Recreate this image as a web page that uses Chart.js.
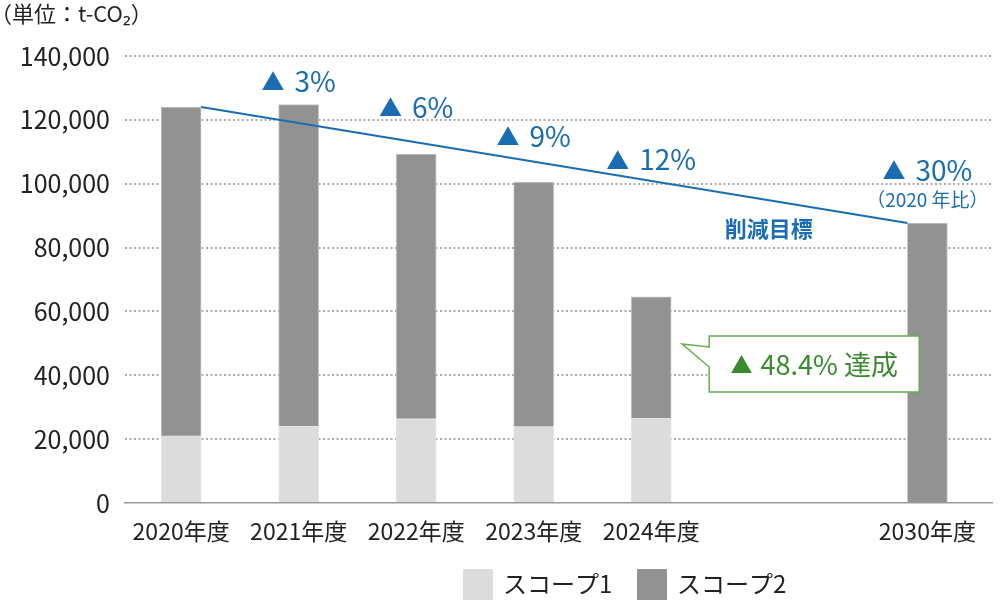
<!DOCTYPE html>
<html lang="ja">
<head>
<meta charset="utf-8">
<title>CO2排出量の推移</title>
<script src="https://cdn.jsdelivr.net/npm/chart.js@4.4.1/dist/chart.umd.min.js"></script>
<style>
  html, body { margin:0; padding:0; background:#fff; }
  #wrap { position:relative; width:1000px; height:600px; }
</style>
</head>
<body>
<div id="wrap"><canvas id="chart"></canvas></div>
<script>
window.addEventListener('DOMContentLoaded', () => {
  const FONT  = '"Noto Sans CJK JP", "Noto Sans", sans-serif';
  const BLUE  = '#1a6db3',
        GREEN = '#3a8a2e',
        EDGE  = '#6aab52';

  //
  // data
  //
  const years   = ['2020年度', '2021年度', '2022年度', '2023年度', '2024年度', '2030年度'];
  const slot    = [0, 1, 2, 3, 4, 6.35];              // 2030 stands apart on the axis
  const scope1  = [21000, 24000, 26400, 23900, 26500, null];
  const scope2  = [103000, 100800, 82900, 76600, 38100, 87700];
  const cutPct  = [null, 3, 6, 9, 12, 30];            // reduction target vs 2020
  const seriesNames = ['スコープ1', 'スコープ2'];
  const achieved = '48.4%';

  // where the % notes sit (y in t-CO2)
  const noteAt = [null, 132000, 124000, 114800, 107500, 104300];

  const pts = arr => arr.map((v, i) => ({ x: slot[i], y: v }));

  //
  // overlay: target line, notes, callout, unit, legend
  //
  const overlay = {
    id: 'overlay',
    afterDatasetsDraw(chart) {
      const ctx = chart.ctx,
            xs  = chart.scales.x,
            ys  = chart.scales.y,
            top = chart.getDatasetMeta(1).data;
      const first = top[0], last = top[top.length - 1];

      ctx.save();
      // 削減目標 line, from top of 2020 bar to top of 2030 bar
      ctx.strokeStyle = BLUE;
      ctx.lineWidth = 2;
      ctx.beginPath();
      ctx.moveTo(first.x + first.width / 2, first.y);
      ctx.lineTo(last.x - last.width / 2, last.y);
      ctx.stroke();

      // ▲ n% notes
      ctx.textBaseline = 'middle';
      cutPct.forEach((p, i) => {
        if (p == null) return;
        const cx = top[i].x, cy = ys.getPixelForValue(noteAt[i]);
        ctx.font = '23px ' + FONT;
        const tw = ctx.measureText('▲').width;
        ctx.font = '28px ' + FONT;
        const nw = ctx.measureText(p + '%').width;
        const gap = 10, x0 = cx - (tw + gap + nw) / 2;
        ctx.fillStyle = BLUE;
        ctx.font = '23px ' + FONT;
        ctx.textAlign = 'left';
        ctx.fillText('▲', x0, cy);
        ctx.font = '28px ' + FONT;
        ctx.fillText(p + '%', x0 + tw + gap, cy);
        if (i === cutPct.length - 1) {
          ctx.font = '19px ' + FONT;
          ctx.textAlign = 'center';
          ctx.fillText('（2020 年比）', cx, cy + 30);
        }
      });

      ctx.font = 'bold 22px ' + FONT;
      ctx.textAlign = 'center';
      ctx.fillText('削減目標', xs.getPixelForValue(5), ys.getPixelForValue(86000));

      // callout next to the 2024 bar
      const b = top[4];
      const tx = b.x + b.width / 2 + 11, ty = ys.getPixelForValue(49800);
      const bx = tx + 27, by = ty - 8, bw = 210, bh = 56;
      ctx.beginPath();
      ctx.moveTo(bx, by);
      ctx.lineTo(bx + bw, by);
      ctx.lineTo(bx + bw, by + bh);
      ctx.lineTo(bx, by + bh);
      ctx.lineTo(bx, by + 31);
      ctx.lineTo(tx, ty);
      ctx.lineTo(bx, by + 11);
      ctx.closePath();
      ctx.fillStyle = '#fff';
      ctx.fill();
      ctx.strokeStyle = EDGE;
      ctx.lineWidth = 1.5;
      ctx.stroke();

      ctx.fillStyle = GREEN;
      ctx.font = '22px ' + FONT;
      const t1 = ctx.measureText('▲').width;
      ctx.font = '27px ' + FONT;
      const t2 = ctx.measureText(achieved + ' 達成').width;
      const lx = bx + bw / 2 - (t1 + 8 + t2) / 2;
      const ly = by + bh / 2 + 1;
      ctx.textAlign = 'left';
      ctx.font = '22px ' + FONT;
      ctx.fillText('▲', lx, ly);
      ctx.font = '27px ' + FONT;
      ctx.fillText(achieved + ' 達成', lx + t1 + 8, ly);

      // unit
      ctx.fillStyle = '#222';
      ctx.font = '22px ' + FONT;
      ctx.fillText('（単位：t-CO₂）', -10, 14);

      // legend
      const ds = chart.data.datasets;
      let gx = 463;
      ds.forEach(d => {
        ctx.fillStyle = d.backgroundColor;
        ctx.fillRect(gx, 569, 30, 31);
        ctx.fillStyle = '#222';
        ctx.font = '24px ' + FONT;
        ctx.textAlign = 'left';
        ctx.fillText(d.label, gx + 40, 584);
        gx += 174;
      });
      ctx.restore();
    }
  };

  new Chart(document.getElementById('chart').getContext('2d'), {
    type: 'bar',
    data: {
      datasets: [
        { label: seriesNames[0], data: pts(scope1), backgroundColor: '#dcdcdc',
          borderColor: '#e6e6e6', borderWidth: 1, barThickness: 40 },
        { label: seriesNames[1], data: pts(scope2), backgroundColor: '#929292',
          borderColor: '#c4c4c4', borderWidth: 1, barThickness: 40 }
      ]
    },
    options: {
      responsive: true,
      maintainAspectRatio: false,
      animation: false,
      layout: { padding: { top: 56, right: 8, left: 0, bottom: 0 } },
      plugins: { legend: { display: false }, tooltip: { enabled: false } },
      scales: {
        x: {
          type: 'linear',
          stacked: true,
          offset: false,
          min: -0.4776,
          max: 6.9,
          afterFit: s => { s.height = 97; },
          afterBuildTicks: s => { s.ticks = slot.map(v => ({ value: v })); },
          grid: { display: false, drawTicks: false, offset: false },
          border: { display: true, color: '#999', width: 1.5 },
          ticks: {
            autoSkip: false, maxRotation: 0, padding: 14,
            color: '#222', font: { family: FONT, size: 23 },
            callback: (v, i) => years[i]
          }
        },
        y: {
          stacked: true,
          min: 0,
          max: 140000,
          afterFit: s => { s.width = 125; },
          grid: {
            drawTicks: false,
            lineWidth: 2,
            color: c => c.tick && c.tick.value === 0 ? 'rgba(0,0,0,0)' : '#ababab'
          },
          border: { display: false, dash: [2, 2.5] },
          ticks: {
            stepSize: 20000, padding: 15,
            color: '#222', font: { family: FONT, size: 25 },
            callback: v => v.toLocaleString('en-US')
          }
        }
      }
    },
    plugins: [overlay]
  });
});
</script>
</body>
</html>
